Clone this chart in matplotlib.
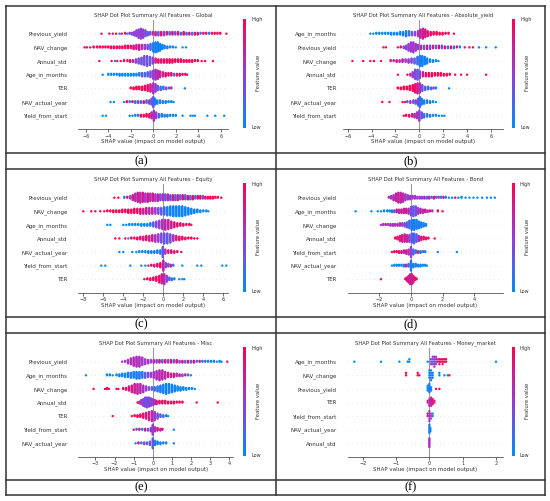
import numpy as np
import matplotlib
matplotlib.use("Agg")
import matplotlib.pyplot as plt
from matplotlib.colors import LinearSegmentedColormap
from matplotlib.lines import Line2D

# ---- data ----
# each feature row: list of (shap value, number of stacked dots, feature value 0..1)

titles = ["Global", "Absolute_yield", "Equity", "Bond", "Misc", "Money_market"]
panel_tags = ["(a)", "(b)", "(c)", "(d)", "(e)", "(f)"]

a_feats = ["Previous_yield", "NAV_change", "Annual_std", "Age_in_months", "TER",
           "NAV_actual_year", "Yield_from_start"]
a_pts = [
    [(-4.6,1,1),(-3.9,1,1),(-3.6,1,1),(-3.3,1,1),(-3.0,1,0.1),(-2.8,1,1),(-2.5,2,0.9),(-2.3,1,0.1),(-2.1,2,0.5),
     (-1.9,3,0.4),(-1.7,5,0.5),(-1.5,8,0.45),(-1.3,11,0.5),(-1.1,13,0.45),(-0.9,11,0.5),(-0.7,8,0.4),(-0.5,5,0.35),(-0.3,4,0.3),
     (-0.05,4,0.6),(0.2,5,0.8),(0.45,5,0.3),(0.7,5,0.9),(0.95,5,0.4),(1.2,4,0.9),(1.45,4,0.2),(1.7,4,0.9),(1.95,4,0.3),
     (2.2,4,0.9),(2.45,3,0.2),(2.7,4,0.95),(2.95,3,0.2),(3.2,3,0.9),(3.45,3,0.15),(3.7,3,0.9),(3.95,3,0.9),(4.2,2,0.15),
     (4.45,2,0.95),(4.7,2,0.9),(4.95,2,0.1),(5.2,2,0.95),(5.45,2,1),(5.7,2,0.95),(5.95,2,1),(6.5,1,1)],
    [(-6.1,1,1),(-5.9,1,1),(-5.6,1,1),(-5.3,2,1),(-5.0,2,0.95),(-4.75,2,1),(-4.5,2,1),(-4.25,2,0.9),(-4.0,2,1),
     (-3.75,3,1),(-3.5,3,0.9),(-3.25,3,1),(-3.0,3,0.9),(-2.75,3,1),(-2.5,4,0.9),(-2.25,4,1),(-2.0,4,0.8),(-1.75,5,0.9),
     (-1.5,6,0.7),(-1.25,7,0.8),(-1.0,6,0.6),(-0.75,6,0.5),(-0.5,6,0.4),(-0.25,8,0.2),(0.0,11,0.1),(0.2,13,0.05),
     (0.4,12,0.05),(0.6,9,0.05),(0.8,6,0.05),(1.0,4,0.05),(1.25,3,0.1),(1.5,2,0.05),(1.75,2,0.05),(2.0,1,0.05),
     (2.6,1,0),(2.9,1,0)],
    [(-4.8,1,1),(-3.7,1,1),(-3.4,1,0.1),(-3.2,1,1),(-2.9,1,1),(-2.6,2,1),(-2.3,2,0.9),(-2.05,3,1),(-1.8,3,0.6),
     (-1.55,5,0.5),(-1.3,7,0.4),(-1.05,9,0.35),(-0.8,12,0.4),(-0.55,13,0.35),(-0.3,11,0.3),(-0.05,8,0.5),(0.2,6,0.8),
     (0.45,5,0.95),(0.7,5,0.85),(0.95,5,0.95),(1.2,5,0.9),(1.45,5,1),(1.7,5,0.9),(1.95,4,1),(2.2,4,0.95),(2.45,4,1),
     (2.7,3,0.9),(2.95,3,1),(3.2,3,0.95),(3.45,3,1),(3.7,2,1),(3.95,2,1),(4.3,1,1),(4.6,1,1),(5.3,1,1)],
    [(-4.5,1,0),(-4.0,2,0),(-3.75,2,0),(-3.5,2,0.05),(-3.25,2,0),(-3.0,3,0),(-2.75,3,0.05),(-2.5,3,0),(-2.25,3,0),
     (-2.0,3,0.05),(-1.75,3,0),(-1.5,3,0.05),(-1.25,4,0.1),(-1.0,5,0.3),(-0.75,5,0.2),(-0.5,6,0.3),(-0.25,8,0.4),
     (0.0,11,0.5),(0.2,13,0.6),(0.4,11,0.65),(0.6,8,0.7),(0.85,6,0.8),(1.1,5,0.9),(1.35,4,0.85),(1.6,4,0.9),
     (1.85,3,0.2),(2.1,3,0.9),(2.35,3,0.95),(2.6,2,0.9),(2.85,2,1),(3.0,1,1)],
    [(-2.0,2,1),(-1.75,3,1),(-1.5,4,1),(-1.25,4,1),(-1.0,5,1),(-0.75,6,0.95),(-0.5,8,0.9),(-0.25,10,0.8),(0.0,13,0.6),
     (0.2,10,0.5),(0.4,6,0.3),(0.65,5,0.2),(0.9,4,0.1),(1.15,3,0.5),(1.4,2,0.2),(1.6,2,0.8),(2.8,1,0)],
    [(-3.8,1,0),(-3.5,1,0),(-2.6,1,0),(-2.35,2,1),(-2.1,2,0.1),(-1.85,2,0.9),(-1.6,3,0.1),(-1.35,3,0.5),(-1.1,3,0.2),
     (-0.85,3,0.9),(-0.6,4,0.2),(-0.35,5,0.6),(-0.15,8,0.3),(0.0,13,0.3),(0.15,8,0.1),(0.35,5,0.05),(0.6,4,0.1),
     (0.85,3,0.05),(1.1,3,0.1),(1.35,2,0),(1.6,2,0.05),(1.8,1,0)],
    [(-4.5,1,0),(-4.2,1,0),(-2.1,1,0),(-1.85,1,0),(-1.6,2,0),(-1.35,2,0.1),(-1.1,3,1),(-0.85,3,0.9),(-0.6,4,1),
     (-0.35,5,0.9),(-0.15,8,0.7),(0.05,13,0.6),(0.25,8,0.5),(0.5,5,0.2),(0.75,4,0.1),(1.0,3,0.05),(1.25,3,0.1),
     (1.5,2,0),(1.75,2,0.05),(2.0,2,0),(2.6,1,0),(3.3,1,0),(3.5,1,0),(3.7,1,0),(4.8,1,0),(5.5,1,0),(6.3,1,0)],
]

b_feats = ["Age_in_months", "Previous_yield", "NAV_change", "Annual_std", "TER",
           "NAV_actual_year", "Yield_from_start"]
b_pts = [
    [(-4.1,1,0),(-3.85,1,0),(-3.6,2,0),(-3.35,2,0),(-3.1,2,0),(-2.85,2,0),(-2.6,2,0.05),(-2.35,3,0),(-2.1,3,0),
     (-1.85,3,0.05),(-1.6,4,0),(-1.35,5,0.05),(-1.1,7,0.1),(-0.85,6,0.15),(-0.6,5,0.3),(-0.35,5,0.5),(-0.1,7,0.6),
     (0.1,11,0.7),(0.3,13,0.75),(0.5,10,0.8),(0.7,7,0.85),(0.95,5,0.9),(1.2,4,0.9),(1.45,4,1),(1.7,3,0.9),(1.95,3,1),
     (2.2,2,0.95),(2.45,2,1),(2.9,1,1)],
    [(-3.0,1,1),(-2.8,1,1),(-1.8,1,1),(-1.55,2,0.9),(-1.3,3,0.3),(-1.1,5,0.5),(-0.9,9,0.5),(-0.7,12,0.5),(-0.5,13,0.55),
     (-0.3,9,0.6),(-0.1,6,0.4),(0.15,5,0.7),(0.4,5,0.3),(0.65,5,0.8),(0.9,5,0.3),(1.15,4,0.85),(1.4,4,0.2),(1.65,4,0.9),
     (1.9,4,0.3),(2.15,3,0.9),(2.4,3,0.15),(2.65,3,0.9),(2.9,3,0.2),(3.15,2,0.9),(3.4,2,0.1),(3.8,1,1),(4.2,1,1),
     (4.5,1,1),(5.0,1,0),(5.6,1,0),(6.4,1,0)],
    [(-5.6,1,1),(-4.7,1,1),(-4.1,1,1),(-3.8,1,1),(-3.2,1,1),(-2.4,2,0.9),(-2.15,2,0.6),(-1.9,3,0.8),(-1.65,3,0.6),
     (-1.4,4,0.7),(-1.15,4,0.5),(-0.9,5,0.6),(-0.65,6,0.4),(-0.4,7,0.3),(-0.15,10,0.2),(0.05,13,0.1),(0.25,13,0.05),
     (0.45,10,0.05),(0.65,7,0.05),(0.9,4,0.05),(1.15,3,0.05),(1.4,2,0),(1.6,1,0)],
    [(-1.8,1,1),(-1.0,1,1),(-0.75,3,0.6),(-0.55,7,0.5),(-0.35,12,0.4),(-0.15,13,0.35),(0.05,9,0.4),(0.3,6,0.8),
     (0.55,5,0.9),(0.8,5,1),(1.05,5,0.9),(1.3,4,1),(1.55,4,0.95),(1.8,4,1),(2.05,3,0.9),(2.3,3,1),(2.55,2,1),
     (3.0,1,1),(3.5,1,1),(4.0,1,1),(5.6,1,1)],
    [(-1.8,2,1),(-1.55,3,1),(-1.3,4,1),(-1.05,4,1),(-0.8,6,1),(-0.55,8,0.95),(-0.35,11,0.9),(-0.15,13,0.8),(0.05,12,0.6),
     (0.25,8,0.4),(0.5,5,0.2),(0.75,4,0.3),(1.0,3,0.1),(1.2,2,0.5),(1.4,2,0.05),(2.5,1,0)],
    [(-3.1,1,1),(-2.5,1,1),(-1.4,1,1),(-1.2,1,1),(-1.0,2,0.2),(-0.75,3,0.6),(-0.5,4,0.3),(-0.3,5,0.5),(-0.1,9,0.3),
     (0.05,13,0.2),(0.2,8,0.1),(0.4,5,0.05),(0.65,4,0.1),(0.9,3,0.05),(1.15,2,0),(1.4,1,0)],
    [(-1.3,1,1),(-1.1,2,1),(-0.85,3,0.9),(-0.6,4,0.8),(-0.4,5,0.7),(-0.2,8,0.6),(0.0,13,0.5),(0.2,8,0.3),(0.4,5,0.2),
     (0.65,4,0.1),(0.9,3,0.05),(1.15,2,0.1),(1.4,2,0),(1.65,1,0),(1.9,1,0),(2.1,1,0)],
]

c_feats = ["Previous_yield", "NAV_change", "Age_in_months", "Annual_std",
           "NAV_actual_year", "Yield_from_start", "TER"]
c_pts = [
    [(-4.9,1,1),(-4.5,1,1),(-3.9,2,0.1),(-3.6,2,0.9),(-3.3,4,0.5),(-3.05,7,0.8),(-2.8,10,0.6),(-2.55,12,0.8),
     (-2.3,13,0.6),(-2.05,12,0.8),(-1.8,11,0.5),(-1.55,11,0.85),(-1.3,10,0.6),(-1.05,10,0.8),(-0.8,9,0.5),(-0.55,9,0.7),
     (-0.3,8,0.4),(-0.05,8,0.6),(0.2,8,0.3),(0.45,8,0.7),(0.7,7,0.3),(0.95,7,0.8),(1.2,7,0.3),(1.45,7,0.8),(1.7,6,0.25),
     (1.95,6,0.85),(2.2,6,0.3),(2.45,5,0.85),(2.7,5,0.25),(2.95,5,0.9),(3.2,4,0.3),(3.45,4,0.9),(3.7,4,0.9),(3.95,4,0.3),
     (4.2,3,0.95),(4.45,3,0.9),(4.7,3,1),(4.95,3,0.95),(5.2,2,1),(5.45,2,1),(5.8,1,1)],
    [(-8.0,1,1),(-7.2,1,1),(-6.8,1,1),(-6.3,1,1),(-5.9,1,1),(-5.6,2,1),(-5.3,2,1),(-5.0,3,1),(-4.7,3,0.95),(-4.4,3,1),
     (-4.1,4,1),(-3.8,4,0.9),(-3.5,5,1),(-3.2,5,0.9),(-2.9,6,1),(-2.6,6,0.85),(-2.3,7,0.9),(-2.0,7,0.7),(-1.7,8,0.8),
     (-1.4,8,0.6),(-1.1,8,0.7),(-0.8,8,0.5),(-0.5,8,0.4),(-0.2,9,0.3),(0.1,10,0.2),(0.4,11,0.1),(0.7,12,0.05),
     (1.0,13,0.05),(1.3,13,0.05),(1.6,13,0.05),(1.9,13,0.05),(2.2,11,0.05),(2.5,9,0.05),(2.8,7,0.05),(3.1,5,0.05),
     (3.4,4,0.05),(3.7,3,0),(4.0,2,0.05),(4.3,2,0),(4.5,1,0)],
    [(-5.6,1,0),(-5.3,1,0),(-4.0,1,0),(-3.7,1,0),(-3.4,2,0),(-3.1,2,0),(-2.8,2,0.05),(-2.5,2,0),(-2.2,3,0),(-1.9,3,0.05),
     (-1.6,3,0),(-1.3,4,0.1),(-1.0,6,0.3),(-0.7,8,0.4),(-0.4,10,0.5),(-0.1,12,0.6),(0.2,13,0.65),(0.5,12,0.7),
     (0.8,9,0.75),(1.1,7,0.8),(1.4,5,0.85),(1.7,4,0.9),(2.0,3,0.95),(2.3,2,0.9),(2.6,2,1),(2.8,1,1)],
    [(-4.8,1,1),(-4.4,1,1),(-3.8,1,1),(-3.5,1,0.1),(-3.2,2,1),(-2.9,2,0.9),(-2.6,3,1),(-2.3,4,0.9),(-2.0,5,0.8),
     (-1.7,6,0.9),(-1.4,7,0.7),(-1.1,8,0.8),(-0.8,9,0.6),(-0.5,10,0.5),(-0.2,12,0.4),(0.1,13,0.35),(0.4,13,0.3),
     (0.7,11,0.4),(1.0,8,0.6),(1.3,6,0.8),(1.6,5,0.9),(1.9,4,0.95),(2.2,3,0.9),(2.5,2,1),(2.8,2,1),(3.1,1,1),(3.4,1,1)],
    [(-4.4,1,0),(-4.0,1,0),(-3.1,1,0),(-2.7,1,0),(-2.4,2,0),(-2.1,2,0),(-1.8,2,0.05),(-1.5,3,0),(-1.2,3,0.1),
     (-0.9,3,0.05),(-0.6,4,0.1),(-0.3,5,0.2),(-0.05,13,0.3),(0.2,6,0.6),(0.5,4,0.8),(0.8,4,0.9),(1.1,3,0.85),
     (1.4,2,0.9),(1.8,1,1)],
    [(-6.2,1,0),(-5.8,1,0),(-3.3,1,0),(-2.2,1,0),(-1.8,1,0),(-1.5,1,0.9),(-1.2,2,1),(-0.9,3,0.9),(-0.6,4,1),
     (-0.3,6,0.9),(0.0,13,0.7),(0.25,6,0.5),(0.5,4,0.3),(0.75,3,0.8),(1.0,2,0.2),(1.9,1,0),(3.4,1,0),(3.8,1,0),
     (5.9,1,0),(6.3,1,0)],
    [(-1.9,1,1),(-1.6,2,1),(-1.3,3,1),(-1.0,4,1),(-0.7,6,0.95),(-0.4,9,0.9),(-0.15,12,0.8),(0.1,13,0.6),(0.35,8,0.5),
     (0.6,4,0.3),(0.85,3,0.1),(1.1,2,0.05),(1.6,1,0),(1.9,1,0),(2.1,1,0)],
]

d_feats = ["Previous_yield", "Age_in_months", "NAV_change", "Annual_std",
           "Yield_from_start", "NAV_actual_year", "TER"]
d_pts = [
    [(-1.4,2,0.6),(-1.25,4,0.6),(-1.1,7,0.65),(-0.95,10,0.7),(-0.8,13,0.7),(-0.65,13,0.7),(-0.5,11,0.65),
     (-0.35,8,0.6),(-0.2,6,0.55),(-0.05,5,0.5),(0.1,4,0.5),(0.25,4,0.6),(0.4,3,0.45),(0.55,3,0.7),(0.7,3,0.4),
     (0.85,3,0.7),(1.0,3,0.3),(1.15,3,0.8),(1.3,2,0.2),(1.45,3,0.9),(1.6,2,0.2),(1.75,2,0.6),(1.9,2,0.1),(2.05,2,0.9),
     (2.2,2,0.1),(2.4,1,0),(2.6,1,0),(2.8,1,1),(3.0,1,0),(3.2,2,0),(3.45,1,0),(3.7,1,0),(3.95,1,0),(4.2,1,0),
     (4.5,1,0),(4.8,1,0),(5.05,1,0),(5.3,1,0)],
    [(-3.5,1,0),(-2.5,1,0),(-2.1,1,0),(-1.9,1,0),(-1.7,2,0),(-1.5,2,0.05),(-1.35,2,0),(-1.2,3,0.1),(-1.05,3,0.3),
     (-0.9,4,0.8),(-0.75,5,0.6),(-0.6,5,0.8),(-0.45,6,0.7),(-0.3,6,0.8),(-0.15,7,0.6),(0.0,11,0.4),(0.15,13,0.3),
     (0.3,12,0.35),(0.45,8,0.5),(0.6,6,0.7),(0.75,5,0.6),(0.9,4,0.8),(1.05,3,0.6),(1.2,2,0.9),(1.35,2,0.5),
     (1.7,2,1),(2.0,1,1)],
    [(-1.9,1,0.5),(-1.75,2,0.6),(-1.6,2,0.7),(-1.45,2,0.5),(-1.3,3,0.6),(-1.15,3,0.7),(-1.0,3,0.5),(-0.85,3,0.7),
     (-0.7,4,0.6),(-0.55,4,0.5),(-0.4,5,0.4),(-0.25,7,0.3),(-0.1,10,0.2),(0.05,13,0.1),(0.2,13,0.1),(0.35,12,0.05),
     (0.5,9,0.1),(0.65,7,0.05),(0.8,5,0.1),(0.95,3,0.05)],
    [(-1.0,2,1),(-0.85,4,0.9),(-0.7,7,0.85),(-0.55,9,0.8),(-0.4,10,0.75),(-0.25,9,0.7),(-0.1,9,0.5),(0.05,12,0.3),
     (0.2,13,0.2),(0.35,10,0.3),(0.5,7,0.6),(0.65,5,0.8),(0.8,4,0.9),(0.95,3,0.85),(1.1,2,1),(1.5,1,1)],
    [(-1.2,1,1),(-1.05,2,0.9),(-0.9,2,1),(-0.75,3,0.8),(-0.6,3,0.9),(-0.45,4,0.7),(-0.3,5,0.8),(-0.15,7,0.6),
     (0.0,13,0.5),(0.15,7,0.3),(0.3,4,0.1),(0.45,3,0.8),(0.6,3,0.1),(0.75,2,0.2),(0.9,2,0.05),(1.7,1,0),(2.9,1,0)],
    [(-1.2,1,0),(-1.05,2,0),(-0.9,2,0.05),(-0.75,2,0),(-0.6,2,0.1),(-0.45,3,0.05),(-0.3,3,0.9),(-0.15,4,0.1),
     (0.0,13,0.15),(0.15,5,0.05),(0.3,4,0.1),(0.45,3,0),(0.6,3,0.05),(0.75,2,0),(0.9,2,0.05),(1.0,1,0)],
    [(-1.9,1,1),(-0.35,2,1),(-0.25,5,0.9),(-0.15,9,0.8),(-0.05,13,0.7),(0.05,13,0.75),(0.15,9,0.8),(0.25,4,0.9),
     (0.35,2,1)],
]

e_feats = ["Previous_yield", "Age_in_months", "NAV_change", "Annual_std", "TER",
           "Yield_from_start", "NAV_actual_year"]
e_pts = [
    [(-1.6,1,0.6),(-1.45,2,0.5),(-1.3,5,0.6),(-1.15,8,0.6),(-1.0,11,0.65),(-0.85,13,0.6),(-0.7,13,0.6),(-0.55,10,0.55),
     (-0.4,7,0.5),(-0.25,5,0.6),(-0.1,4,0.5),(0.05,4,0.7),(0.2,4,0.4),(0.35,4,0.8),(0.5,4,0.3),(0.65,4,0.85),
     (0.8,4,0.4),(0.95,4,0.9),(1.1,4,0.3),(1.25,4,0.9),(1.4,3,0.4),(1.55,3,0.9),(1.7,3,0.2),(1.85,3,0.9),(2.0,3,0.3),
     (2.15,3,0.9),(2.3,2,0.1),(2.45,2,0.9),(2.6,2,0.1),(2.75,2,0.2),(2.9,2,0.05),(3.05,2,0),(3.2,2,0.1),(3.35,1,0),
     (3.5,2,0.05),(3.6,1,0),(3.9,1,1)],
    [(-3.5,1,0),(-2.4,2,0),(-2.25,2,0),(-2.1,1,0),(-1.9,2,0),(-1.75,3,0),(-1.6,4,0.05),(-1.45,5,0),(-1.3,6,0.05),
     (-1.15,7,0.1),(-1.0,8,0.05),(-0.85,9,0.1),(-0.7,9,0.15),(-0.55,8,0.1),(-0.4,7,0.3),(-0.25,6,0.4),(-0.1,6,0.5),
     (0.05,8,0.55),(0.2,11,0.6),(0.35,13,0.65),(0.5,12,0.7),(0.65,9,0.6),(0.8,6,0.8),(0.95,5,0.7),(1.1,5,0.85),
     (1.25,4,0.6),(1.4,3,0.8),(1.55,3,0.4),(1.7,2,0.8),(1.85,2,0.2),(2.0,1,0.1)],
    [(-3.1,1,1),(-2.5,1,1),(-2.4,2,1),(-2.3,1,1),(-1.9,1,1),(-1.8,1,1),(-1.55,2,1),(-1.4,3,0.9),(-1.25,6,0.85),
     (-1.1,9,0.8),(-0.95,12,0.75),(-0.8,13,0.7),(-0.65,12,0.65),(-0.5,9,0.6),(-0.35,6,0.5),(-0.2,4,0.4),(-0.05,4,0.3),
     (0.1,5,0.2),(0.25,7,0.1),(0.4,9,0.1),(0.55,11,0.05),(0.7,13,0.05),(0.85,12,0.05),(1.0,10,0.05),(1.15,8,0.05),
     (1.3,6,0.05),(1.45,5,0),(1.6,4,0.05),(1.75,3,0),(1.9,2,0),(2.05,2,0),(2.2,1,0)],
    [(-0.8,1,1),(-0.7,3,0.6),(-0.6,6,0.5),(-0.5,9,0.45),(-0.4,12,0.4),(-0.3,13,0.35),(-0.2,12,0.4),(-0.1,10,0.45),
     (0.0,8,0.5),(0.1,6,0.6),(0.2,5,0.8),(0.35,4,0.9),(0.5,4,0.95),(0.65,4,0.9),(0.8,3,1),(0.95,3,0.9),(1.1,3,1),
     (1.25,2,0.95),(1.4,2,1),(1.55,2,1),(2.3,1,1),(3.4,1,1)],
    [(-2.1,1,1),(-1.1,1,1),(-0.95,2,1),(-0.8,3,1),(-0.65,4,0.95),(-0.5,6,0.9),(-0.35,8,0.85),(-0.2,11,0.75),
     (-0.05,13,0.65),(0.1,11,0.55),(0.25,7,0.4),(0.4,4,0.3),(0.55,3,0.15),(0.7,2,0.05),(0.8,1,0)],
    [(-1.0,1,1),(-0.85,2,0.2),(-0.7,2,0.9),(-0.55,2,0.1),(-0.4,3,0.8),(-0.25,3,0.3),(-0.1,5,0.6),(0.0,13,0.5),
     (0.12,6,0.6),(0.25,4,0.8),(0.4,3,0.7),(0.5,2,0.9),(1.1,1,0)],
    [(-0.9,1,0),(-0.75,2,0.9),(-0.6,2,0.1),(-0.45,3,0.5),(-0.3,3,0.2),(-0.15,5,0.4),(0.0,13,0.3),(0.12,6,0.1),
     (0.25,4,0.05),(0.4,3,0.1),(0.55,2,0),(0.7,2,0.05),(1.1,1,0)],
]

f_feats = ["Age_in_months", "NAV_change", "Previous_yield", "TER", "Yield_from_start",
           "NAV_actual_year", "Annual_std"]
f_pts = [
    [(-2.25,1,0),(-1.45,1,0),(-0.9,1,0),(-0.65,1,0),(-0.6,2,0),(-0.05,1,0),(0.05,3,0.5),(0.1,4,0.3),(0.15,5,0.6),
     (0.2,4,0.4),(0.25,2,0.8),(0.3,3,0.9),(0.35,2,1),(0.4,3,0.95),(0.45,2,1),(0.5,2,1),(2.0,1,0)],
    [(-0.7,2,1),(-0.35,2,1),(-0.3,1,1),(0.0,4,0.05),(0.05,5,0.1),(0.1,3,0.05),(0.3,2,0),(0.45,1,0),(0.55,1,0),
     (0.6,1,1)],
    [(-0.05,4,0.05),(0.0,6,0.1),(0.05,3,0.05),(0.2,1,1),(0.3,1,1)],
    [(-0.05,2,0.8),(0.0,5,0.6),(0.05,6,0.7),(0.1,4,0.9),(0.15,2,0.8)],
    [(-0.05,2,1),(0.0,5,0.6),(0.05,3,0.5),(0.1,2,0.1)],
    [(0.0,6,0.1),(0.03,3,0.05)],
    [(0.0,8,0.6)],
]

xticks = [[-6, -4, -2, 0, 2, 4, 6], [-6, -4, -2, 0, 2, 4, 6], [-8, -6, -4, -2, 0, 2, 4, 6],
          [-2, 0, 2, 4], [-3, -2, -1, 0, 1, 2, 3, 4], [-2, -1, 0, 1, 2]]

# ---- layout (pixels of the 550x501 canvas) ----
W, H = 550, 501
ax_x = [(78, 227.7), (343, 503), (78.3, 227.7), (347.7, 502.7), (78.3, 233), (347.7, 502.7)]
ax_y = [(20, 129.4), (20, 129.4), (184.1, 292.8), (184.1, 292.8), (348.1, 456.9), (348.1, 456.9)]
xlims = [(-6.69, 6.61), (-6.39, 7.01), (-8.5, 6.44), (-4.0, 5.8), (-3.9, 4.2), (-2.45, 2.2)]
cbar_x = [244, 513.3, 244.3, 512.7, 244.3, 512.7]
label_right = [67.7, 336.7]

shap_cmap = LinearSegmentedColormap.from_list("red_blue", ["#008bfb", "#9a3bd6", "#ff0052"])
txt = "#333333"


def frac(x0, y0, x1, y1):
    return [x0 / W, 1 - y1 / H, (x1 - x0) / W, (y1 - y0) / H]


fig = plt.figure(figsize=(5.5, 5.01), dpi=100)
fig.patch.set_facecolor("white")

panels = [(a_feats, a_pts), (b_feats, b_pts), (c_feats, c_pts),
          (d_feats, d_pts), (e_feats, e_pts), (f_feats, f_pts)]

for i, (feats, pts) in enumerate(panels):
    x0, x1 = ax_x[i]
    y0, y1 = ax_y[i]
    ax = fig.add_axes(frac(x0, y0, x1, y1))
    nf = len(feats)
    for r, row in enumerate(pts):
        ypos = nf - 1 - r
        ax.axhline(ypos, color="#cccccc", lw=0.5, dashes=(1, 5), zorder=-1)
        top = max(n for _, n, _ in row)
        step = 0.36 / max(top // 2, 1)
        xs, ys, cs = [], [], []
        for xv, n, cv in row:
            for j in range(n):
                k = (j + 1) // 2 * (1 if j % 2 else -1)
                xs.append(xv)
                ys.append(ypos + k * step)
                cs.append(cv)
        ax.scatter(xs, ys, c=cs, cmap=shap_cmap, vmin=0, vmax=1, s=3.0, lw=0, zorder=3)
    ax.axvline(0, color="#999999", lw=0.8, zorder=-1)
    ax.set_xlim(*xlims[i])
    ax.set_ylim(-1, nf)
    ax.set_yticks(range(nf))
    ax.set_yticklabels(feats[::-1])
    pad = (x0 - label_right[i % 2]) * 0.72
    ax.tick_params(axis="y", length=0, pad=pad, labelsize=4.0, labelcolor=txt)
    ax.set_xticks(xticks[i])
    ax.tick_params(axis="x", length=2, width=0.5, pad=1, labelsize=3.5,
                   labelcolor=txt, color="#333333")
    for s in ["left", "right", "top"]:
        ax.spines[s].set_visible(False)
    ax.spines["bottom"].set_linewidth(0.5)
    ax.spines["bottom"].set_color("#333333")
    ax.patch.set_alpha(0)

    cx = (x0 + x1) / 2
    fig.text(cx / W, 1 - (y0 - 5.0) / H, "SHAP Dot Plot Summary All Features - " + titles[i],
             ha="center", va="center", fontsize=3.8, color=txt)
    fig.text(cx / W, 1 - (y1 + 12.6) / H, "SHAP value (impact on model output)",
             ha="center", va="center", fontsize=4.0, color=txt)

    # colour bar
    cb = cbar_x[i]
    cax = fig.add_axes(frac(cb - 1, y0 - 1, cb + 1.2, y1 - 1))
    cax.imshow(np.linspace(0, 1, 256)[:, None], aspect="auto", cmap=shap_cmap, origin="lower")
    cax.axis("off")
    fig.text((cb + 7) / W, 1 - (y0 + 0) / H, "High", ha="left", va="center", fontsize=3.5, color=txt)
    fig.text((cb + 7) / W, 1 - (y1 - 1.5) / H, "Low", ha="left", va="center", fontsize=3.5, color=txt)
    fig.text((cb + 14.5) / W, 1 - ((y0 + y1) / 2 - 2) / H, "Feature value", rotation=90,
             ha="center", va="center", fontsize=3.8, color=txt)

# ---- frame and sub-figure letters ----
line_kw = dict(color="#333333", lw=1.1, transform=fig.transFigure)
L, R, T, B, MID = 6, 545, 6, 495, 275.7
for yy in [T, 152.7, 169, 316.7, 332.7, 480, B]:
    fig.add_artist(Line2D([L / W, R / W], [1 - yy / H, 1 - yy / H], **line_kw))
for xx in [L, MID, R]:
    fig.add_artist(Line2D([xx / W, xx / W], [1 - T / H, 1 - B / H], **line_kw))

label_y = [160.9, 324.7, 487.5]
for i, tag in enumerate(panel_tags):
    xc = (L + MID) / 2 if i % 2 == 0 else (MID + R) / 2
    fig.text(xc / W, 1 - label_y[i // 2] / H, tag, ha="center", va="center",
             fontsize=9, family="Liberation Serif", color="black")

fig.savefig("out.png", dpi=100)
